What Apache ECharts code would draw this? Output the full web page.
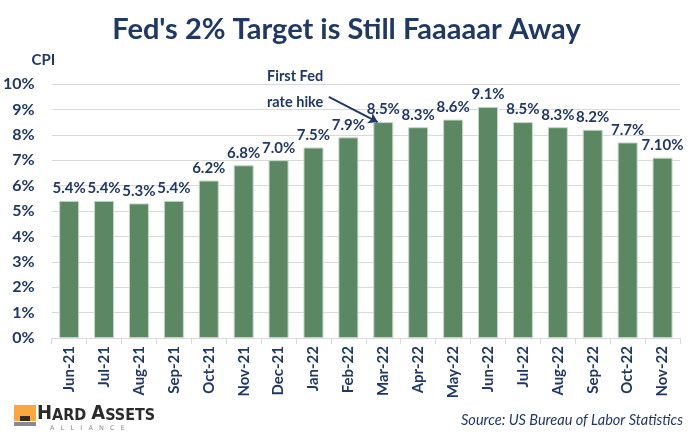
<!DOCTYPE html>
<html><head><meta charset="utf-8">
<script src="https://cdn.jsdelivr.net/npm/echarts@6/dist/echarts.min.js"></script>
<style>html,body{margin:0;padding:0;background:#fff}#c{width:693px;height:434px}</style>
</head><body><div id="c"></div>
<script>
var categories = ['Jun-21','Jul-21','Aug-21','Sep-21','Oct-21','Nov-21','Dec-21','Jan-22','Feb-22','Mar-22','Apr-22','May-22','Jun-22','Jul-22','Aug-22','Sep-22','Oct-22','Nov-22'];
var cpiValues = [5.4,5.4,5.3,5.4,6.2,6.8,7.0,7.5,7.9,8.5,8.3,8.6,9.1,8.5,8.3,8.2,7.7,7.1];
var valueLabels = ['5.4%','5.4%','5.3%','5.4%','6.2%','6.8%','7.0%','7.5%','7.9%','8.5%','8.3%','8.6%','9.1%','8.5%','8.3%','8.2%','7.7%','7.10%'];
var yTicks = [0,1,2,3,4,5,6,7,8,9,10];
var annotationText = 'First Fed\nrate hike';

var navy = '#1F3864';
var chart = echarts.init(document.getElementById('c'));
chart.setOption({
  animation: false,
  title: {
    text: "Fed's 2% Target is Still Faaaaar Away",
    left: 'center', top: 10,
    textStyle: {fontFamily: 'Lato', fontWeight: 'bold', fontSize: 29, color: navy}
  },
  grid: {left: 51, right: 13, top: 84, bottom: 96},
  xAxis: [{
    type: 'category', data: categories,
    axisLine: {lineStyle: {color: '#d9d9d9'}},
    axisTick: {show: true, length: 6, lineStyle: {color: '#d9d9d9'}},
    axisLabel: {rotate: 90, margin: 8, fontFamily: 'Lato', fontWeight: 'bold', fontSize: 15, color: navy}
  }, {
    type: 'value', min: -0.5, max: 17.5, show: false
  }],
  yAxis: {
    type: 'value', min: 0, max: 10, interval: 1,
    name: 'CPI', nameLocation: 'end', nameGap: 16,
    nameTextStyle: {fontFamily: 'Lato', fontWeight: 'bold', fontSize: 15, color: navy, align: 'right', padding: [0, 14, 0, 0]},
    axisLine: {show: false}, axisTick: {show: false},
    splitLine: {lineStyle: {color: '#d9d9d9'}},
    axisLabel: {margin: 17, fontFamily: 'Lato', fontWeight: 'bold', fontSize: 16, color: navy,
      formatter: function (v) { return yTicks.indexOf(v) >= 0 ? v + '%' : ''; }}
  },
  series: [{
    type: 'bar', data: cpiValues, barWidth: 20,
    itemStyle: {color: '#5B8763', borderColor: '#c3d9c7', borderWidth: 1},
    label: {show: true, position: 'top', distance: 5, fontFamily: 'Lato', fontWeight: 'bold', fontSize: 15, color: navy,
      formatter: function (p) { return valueLabels[p.dataIndex]; }}
  }, {
    type: 'scatter', xAxisIndex: 1, data: [], silent: true,
    markPoint: {
      symbol: 'circle', symbolSize: 0, silent: true,
      data: [{coord: [5.67, 9.8], value: 0,
        label: {show: true, position: 'right', distance: 0, formatter: annotationText, lineHeight: 26,
          fontFamily: 'Lato', fontWeight: 'bold', fontSize: 14.5, color: navy, align: 'left'}}]
    },
    markLine: {
      silent: true, symbol: ['none', 'arrow'], symbolSize: 9,
      lineStyle: {color: navy, type: 'solid', width: 2},
      label: {show: false},
      data: [[{coord: [7.44, 9.49]}, {coord: [8.84, 8.5]}]]
    }
  }],
  graphic: [
    {type: 'rect', left: 14, top: 405, shape: {width: 22, height: 16}, style: {fill: '#F9A73E'}},
    {type: 'rect', left: 20, top: 416, shape: {width: 10, height: 5}, style: {fill: '#3a2a1a'}},
    {type: 'rect', left: 14, top: 422, shape: {width: 22, height: 4}, style: {fill: '#8a8a8a'}},
    {type: 'text', left: 37, top: 404, style: {
      text: '{b|H}{s|ARD }{b|A}{s|SSETS}',
      rich: {
        b: {fill: '#2b2b2b', font: 'bold 20px "DejaVu Sans Condensed"', verticalAlign: 'bottom'},
        s: {fill: '#2b2b2b', font: 'bold 16px "DejaVu Sans Condensed"', verticalAlign: 'bottom'}
      }}},
    {type: 'text', left: 50, top: 425, style: {text: 'A   L   L   I   A   N   C   E', fill: '#888', font: '6.5px "DejaVu Sans"'}},
    {type: 'text', right: 10, top: 413, style: {text: 'Source: US Bureau of Labor Statistics', fill: navy, font: 'italic 14.5px Lato', textAlign: 'right'}}
  ]
});
</script></body></html>
